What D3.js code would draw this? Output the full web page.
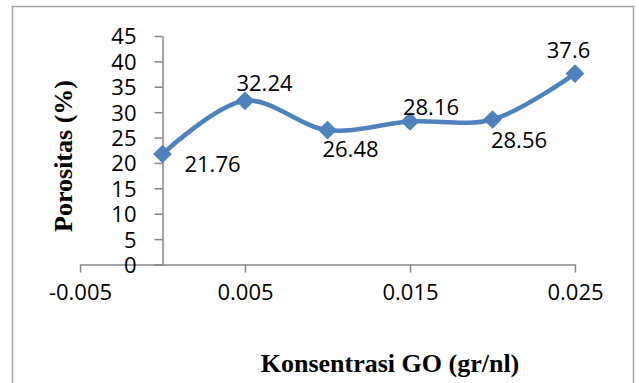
<!DOCTYPE html>
<html>
<head>
<meta charset="utf-8">
<script src="https://cdn.jsdelivr.net/npm/d3@7"></script>
<style>
  html, body { margin: 0; padding: 0; background: #fff; }
  svg { display: block; }
</style>
</head>
<body>
<svg id="chart" width="639" height="383"></svg>
<script>
// GO concentration (gr/nl) and measured porosity (%)
const concentrations = [0, 0.005, 0.01, 0.015, 0.02, 0.025];
const porosity = [21.76, 32.24, 26.48, 28.16, 28.56, 37.6];
const xTickValues = [-0.005, 0.005, 0.015, 0.025];
const xTickLabels = ["-0.005", "0.005", "0.015", "0.025"];
const yTickValues = [0, 5, 10, 15, 20, 25, 30, 35, 40, 45];

// label placement relative to each marker (dx, dy of baseline-centre)
const labelOffsets = [[50, 18], [19.5, -10], [23, 27], [21, -6.5], [26.5, 28.5], [-6.5, -15.6]];

const svg = d3.select("#chart");
const blue = "#4F81BD";
const axisGrey = "#868686";

// outer chart frame
svg.append("rect")
  .attr("x", 12.5).attr("y", 6.5)
  .attr("width", 621).attr("height", 390)
  .attr("fill", "#fff")
  .attr("stroke", "#a6a6a6").attr("stroke-width", 1.5);

const x = d3.scaleLinear().domain([-0.005, 0.025]).range([80, 575]);
const y = d3.scaleLinear().domain([0, 45]).range([264.5, 36]);

// x axis, crossing the y axis at 0
const xAxis = svg.append("g")
  .attr("transform", `translate(0,${y(0)})`)
  .call(d3.axisBottom(x).tickValues(xTickValues)
    .tickFormat((d, i) => xTickLabels[i]).tickSize(8).tickSizeOuter(0).tickPadding(12));

// y axis, positioned at x = 0
const yAxis = svg.append("g")
  .attr("transform", `translate(${x(0)},0)`)
  .call(d3.axisLeft(y).tickValues(yTickValues).tickSize(8).tickSizeOuter(0).tickPadding(18));

[xAxis, yAxis].forEach(g => {
  g.select(".domain").attr("stroke", axisGrey).attr("stroke-width", 1.5);
  g.selectAll(".tick line").attr("stroke", axisGrey).attr("stroke-width", 1.5);
  g.selectAll(".tick text")
    .attr("fill", "#000")
    .style("font-family", "'Open Sans', sans-serif")
    .style("font-size", "22px");
});
xAxis.selectAll(".tick text").attr("dy", "0.71em");
yAxis.selectAll(".tick text").attr("dy", "0.36em");

// smoothed series line
const pts = concentrations.map((c, i) => [c, porosity[i]]);
svg.append("path")
  .datum(pts)
  .attr("fill", "none")
  .attr("stroke", blue)
  .attr("stroke-width", 4.5)
  .attr("stroke-linejoin", "round")
  .attr("d", d3.line().x(d => x(d[0])).y(d => y(d[1])).curve(d3.curveCatmullRom.alpha(0.5)));

// diamond markers
svg.append("g").selectAll("path")
  .data(pts)
  .join("path")
  .attr("transform", d => `translate(${x(d[0])},${y(d[1])}) rotate(45)`)
  .attr("d", d3.symbol().type(d3.symbolSquare).size(175))
  .attr("fill", blue);

// value labels
svg.append("g").selectAll("text")
  .data(pts)
  .join("text")
  .attr("x", (d, i) => x(d[0]) + labelOffsets[i][0])
  .attr("y", (d, i) => y(d[1]) + labelOffsets[i][1])
  .attr("text-anchor", "middle")
  .style("font-family", "'Open Sans', sans-serif")
  .style("font-size", "22px")
  .attr("fill", "#000")
  .text(d => d[1]);

// axis titles
svg.append("text")
  .attr("x", 390).attr("y", 372)
  .attr("text-anchor", "middle")
  .style("font-family", "'Liberation Serif', 'Times New Roman', serif")
  .style("font-weight", "bold")
  .style("font-size", "26px")
  .text("Konsentrasi GO (gr/nl)");

svg.append("text")
  .attr("transform", "translate(72,156) rotate(-90)")
  .attr("text-anchor", "middle")
  .style("font-family", "'Liberation Serif', 'Times New Roman', serif")
  .style("font-weight", "bold")
  .style("font-size", "26px")
  .text("Porositas (%)");
</script>
</body>
</html>
